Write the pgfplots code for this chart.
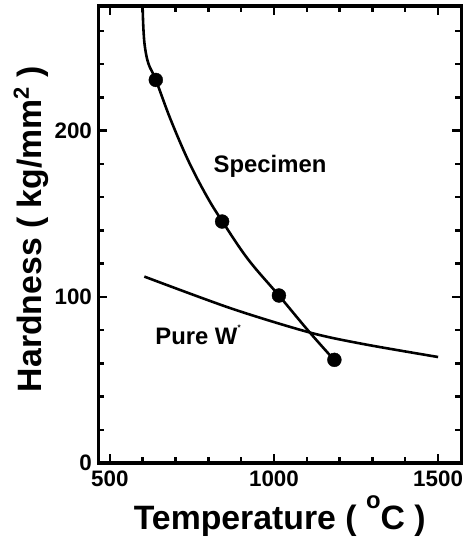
\documentclass[border=0pt]{standalone}
\usepackage{pgfplots}
\pgfplotsset{compat=1.18}
\usepackage{fontspec}
\setmainfont{Liberation Sans}
\begin{document}
\begin{tikzpicture}
\begin{axis}[
  scale only axis, width=365pt, height=460pt,
  xmin=465, xmax=1570, ymin=0, ymax=275,
  xtick={500,1000,1500},
  minor xtick={600,700,800,900,1100,1200,1300,1400},
  ytick={0,100,200},
  minor ytick={20,40,60,80,120,140,160,180,220,240,260},
  tick align=inside,
  major tick length=9pt, minor tick length=6pt,
  tick style={black, line width=2.4pt},
  axis line style={line width=3.2pt},
  /pgf/number format/assume math mode=true,
  /pgf/number format/1000 sep={},
  ticklabel style={font=\bfseries\fontsize{22.5}{22.5}\selectfont},
  xticklabel style={yshift=-4pt},
  yticklabel style={xshift=-3pt},
  xlabel={Temperature ( \raisebox{21pt}{\fontsize{24}{24}\selectfont o}C )},
  ylabel={Hardness ( kg/mm\raisebox{13pt}{\fontsize{22}{22}\selectfont 2} )},
  label style={font=\bfseries\fontsize{34}{34}\selectfont},
  xlabel style={at={(axis description cs:0.5,-0.1457)}, anchor=base},
  ylabel style={at={(axis description cs:-0.156,0.5115)}, anchor=base},
]
% Specimen fitted curve
\addplot[black, line width=2.6pt, smooth, tension=0.6] coordinates {
  (599,280) (602,262) (607,250) (618,240) (640,230.5) (684,207.2) (739,181.9)
  (795,160.6) (842,145.6) (921,122.6) (1015,100.8) (1108,78.8) (1195,59.5)
};
% Specimen measured points
\addplot[only marks, mark=*, mark size=7pt, black] coordinates {
  (640,230.5) (842,145.3) (1015,100.8) (1184,62.1)
};
% Pure W
\addplot[black, line width=2.6pt, smooth] coordinates {
  (605,112.2) (870,93) (1110,78.5) (1275,71.5) (1500,63.8)
};
\node[anchor=base, inner sep=0pt, font=\bfseries\fontsize{24}{24}\selectfont] at (axis cs:988,174.9) {Specimen};
\node[anchor=base west, inner sep=0pt, font=\bfseries\fontsize{24}{24}\selectfont] at (axis cs:638,71.4) {Pure W\raisebox{0.6em}{\fontsize{8}{8}\selectfont *}};
\end{axis}
\path ([shift={(-99pt,-74pt)}]current axis.south west) rectangle ++(467pt,540pt);
\end{tikzpicture}
\end{document}
